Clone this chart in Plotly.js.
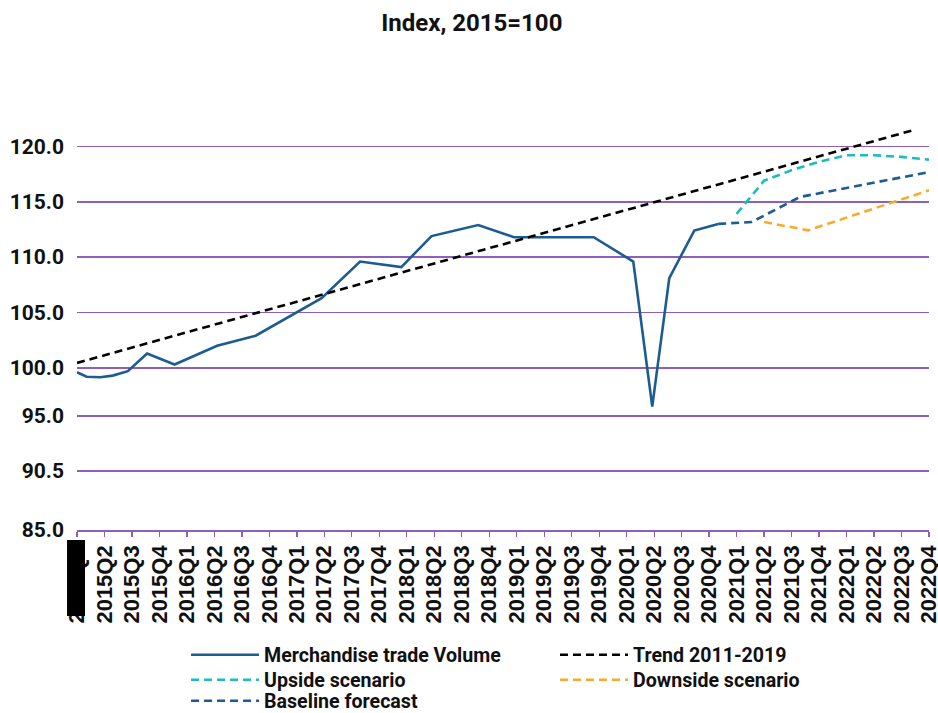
<!DOCTYPE html>
<html>
<head>
<meta charset="utf-8">
<script src="https://cdn.plot.ly/plotly-3.0.1.min.js"></script>
<style>html,body{margin:0;padding:0;background:#fff;}#chart{width:938px;height:713px;}</style>
</head>
<body>
<div id="chart"></div>
<script>
// Quarter labels on the x axis
const quarters = ['2015Q1','2015Q2','2015Q3','2015Q4','2016Q1','2016Q2','2016Q3','2016Q4',
  '2017Q1','2017Q2','2017Q3','2017Q4','2018Q1','2018Q2','2018Q3','2018Q4',
  '2019Q1','2019Q2','2019Q3','2019Q4','2020Q1','2020Q2','2020Q3','2020Q4',
  '2021Q1','2021Q2','2021Q3','2021Q4','2022Q1','2022Q2','2022Q3','2022Q4'];

// Merchandise trade volume (positions in quarter units from 2015Q1)
const volumeX = [0, 0.35, 0.85, 1.3, 1.85, 2.55, 3.55, 5.1, 6.5, 8.9, 10.3, 11.8, 12.9, 14.6, 15.9, 18.8, 20.24, 20.93, 21.55, 22.46, 23.33];
const volumeY = [99.6, 99.2, 99.15, 99.3, 99.7, 101.3, 100.3, 102.0, 102.9, 106.3, 109.6, 109.1, 111.9, 112.9, 111.8, 111.8, 109.6, 96.5, 108.1, 112.4, 113.0];

// Trend 2011-2019
const trendX = [0, 30.48];
const trendY = [100.45, 121.5];

// Upside scenario
const upsideX = [24, 25, 26, 27, 28, 29, 30, 31];
const upsideY = [113.9, 116.9, 117.85, 118.6, 119.2, 119.2, 119.05, 118.8];

// Downside scenario
const downsideX = [25, 26.6, 31];
const downsideY = [113.17, 112.42, 116.03];

// Baseline forecast
const baselineX = [23.33, 24.55, 26.3, 31];
const baselineY = [113.0, 113.17, 115.43, 117.68];

// Y axis tick labels
const yTickText = ['85.0', '90.5', '95.0', '100.0', '105.0', '110.0', '115.0', '120.0'];
const yTickVals = [85.36, 90.68, 95.67, 100, 105, 110, 115, 120];

const purple = '#8d5fbb';
const navy = '#1d5b93';
const legFont = {family: 'Roboto, sans-serif', size: 19.6, color: '#111111', weight: 'bold'};

const traces = [
  {x: volumeX, y: volumeY, name: 'Merchandise trade Volume', mode: 'lines', legend: 'legend',
   line: {color: navy, width: 2.6}},
  {x: trendX, y: trendY, name: 'Trend 2011-2019', mode: 'lines', legend: 'legend2',
   line: {color: '#000000', width: 2.6, dash: '8px,5px'}},
  {x: upsideX, y: upsideY, name: 'Upside scenario', mode: 'lines', legend: 'legend3',
   line: {color: '#1bbcbc', width: 2.6, dash: '8px,5px'}},
  {x: downsideX, y: downsideY, name: 'Downside scenario', mode: 'lines', legend: 'legend4',
   line: {color: '#f9aa2c', width: 2.6, dash: '8px,5px'}},
  {x: baselineX, y: baselineY, name: 'Baseline forecast', mode: 'lines', legend: 'legend5',
   line: {color: navy, width: 2.6, dash: '8px,5px'}}
];

function leg(x, y) {
  return {orientation: 'v', x: x, xanchor: 'left', y: y, yanchor: 'middle',
          itemwidth: 68, font: legFont, bgcolor: 'rgba(0,0,0,0)', borderwidth: 0};
}

const layout = {
  width: 938, height: 713,
  margin: {l: 77, r: 9, t: 91, b: 183, autoexpand: false},
  paper_bgcolor: '#ffffff', plot_bgcolor: '#ffffff',
  title: {text: '<b>Index, 2015=100</b>', x: 0.503, xanchor: 'center', y: 0.968, yanchor: 'middle',
          font: {family: 'Roboto, sans-serif', size: 24, color: '#111111'}},
  xaxis: {
    type: 'linear', range: [0, 31], tickmode: 'array', automargin: false,
    tickvals: quarters.map((q, i) => i), ticktext: quarters, ticklabeloverflow: 'allow',
    tickangle: -90, ticks: 'outside', ticklen: 5, tickcolor: purple, tickwidth: 1.3,
    showline: true, linecolor: purple, linewidth: 1.5, showgrid: false, zeroline: false,
    tickfont: {family: 'Arial, "Liberation Sans", sans-serif', size: 22, color: '#111111', weight: 'bold'}
  },
  yaxis: {
    range: [85.36, 125], tickmode: 'array', tickvals: yTickVals, ticktext: yTickText, automargin: false,
    showgrid: true, gridcolor: purple, gridwidth: 1.5, zeroline: false, showline: false,
    ticks: '', ticklabelstandoff: 12,
    tickfont: {family: 'Roboto, sans-serif', size: 21, color: '#111111', weight: 'bold'}
  },
  showlegend: true,
  legend: leg(0.128, -0.2847),
  legend2: leg(0.561, -0.2847),
  legend3: leg(0.128, -0.3417),
  legend4: leg(0.561, -0.3417),
  legend5: leg(0.128, -0.3895),
  shapes: [
    {type: 'rect', xref: 'paper', yref: 'paper', x0: -0.0117, x1: 0.0094, y0: -0.023, y1: -0.196,
     fillcolor: '#000000', line: {width: 0}, layer: 'above'}
  ]
};

Plotly.newPlot('chart', traces, layout, {displayModeBar: false, staticPlot: true});
</script>
</body>
</html>
